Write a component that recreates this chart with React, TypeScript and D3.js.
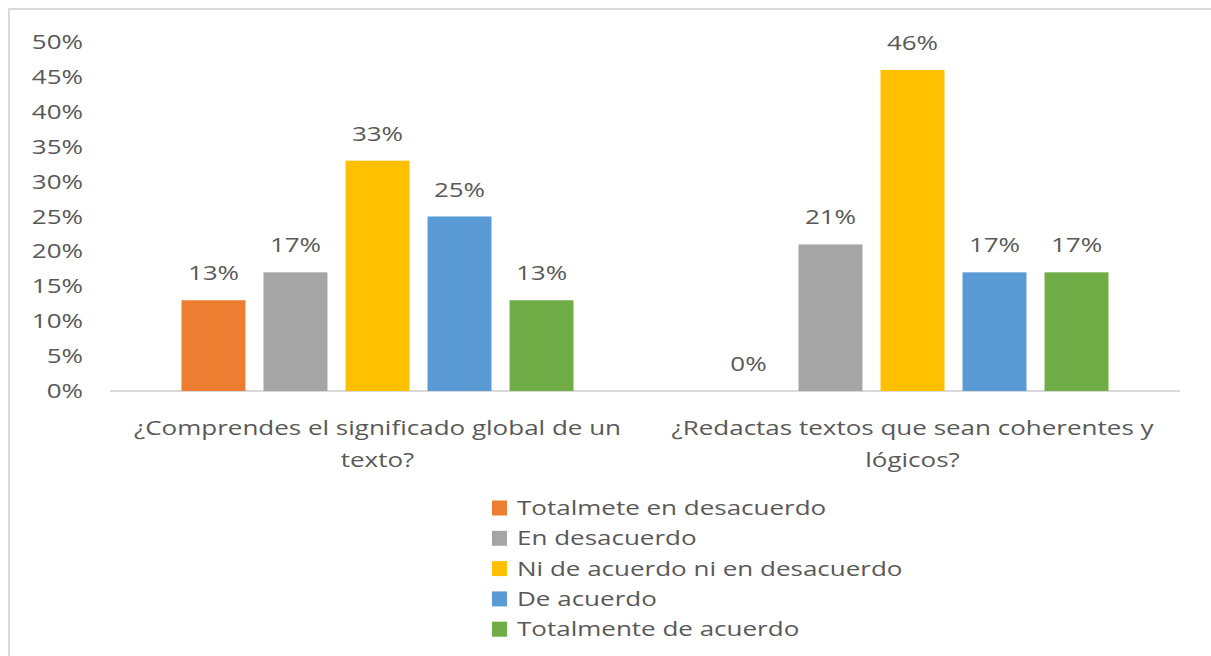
import React, { useEffect, useRef } from 'react';
import * as d3 from 'd3';

const categories = [
  ['¿Comprendes el significado global de un', 'texto?'],
  ['¿Redactas textos que sean coherentes y', 'lógicos?'],
];
const seriesNames = [
  'Totalmete en desacuerdo',
  'En desacuerdo',
  'Ni de acuerdo ni en desacuerdo',
  'De acuerdo',
  'Totalmente de acuerdo',
];
const seriesColors = ['#ed7d31', '#a5a5a5', '#ffc000', '#5b9bd5', '#70ad47'];
// values per category, in series order (%)
const valuesComprendes = [13, 17, 33, 25, 13];
const valuesRedactas = [0, 21, 46, 17, 17];
const yTicks = [0, 5, 10, 15, 20, 25, 30, 35, 40, 45, 50];

const App = () => {
  const svgRef = useRef<SVGSVGElement>(null);

  useEffect(() => {
    const svg = d3.select(svgRef.current);
    svg.selectAll('*').remove();

    const width = 1211;
    const height = 656;
    const font = "'Open Sans', sans-serif";
    const textColor = '#595959';
    const stretch = 1.3; // the source image is stretched horizontally

    svg.attr('width', width).attr('height', height);

    svg.append('rect')
      .attr('width', width).attr('height', height).attr('fill', 'white');

    // chart frame (runs off the right and bottom edges)
    svg.append('rect')
      .attr('x', 9).attr('y', 9)
      .attr('width', 1300).attr('height', 800)
      .attr('fill', 'none')
      .attr('stroke', '#d9d9d9')
      .attr('stroke-width', 2);

    const addText = (parent, x, y, str, anchor = 'start') =>
      parent.append('text')
        .attr('transform', `translate(${x},${y}) scale(${stretch},1)`)
        .attr('dy', '0.35em')
        .attr('text-anchor', anchor)
        .style('font-family', font)
        .style('font-size', '20px')
        .attr('fill', textColor)
        .text(str);

    const plot = { left: 110, right: 1180, top: 42, bottom: 391 };

    const x0 = d3.scaleBand<number>()
      .domain(d3.range(categories.length))
      .range([plot.left, plot.right]);

    const x1 = d3.scaleBand<number>()
      .domain(d3.range(seriesNames.length))
      .range([71.5, x0.bandwidth() - 71.5])
      .paddingInner(0.22);

    const y = d3.scaleLinear()
      .domain([0, 50])
      .range([plot.bottom, plot.top]);

    // y axis labels
    const yAxis = svg.append('g');
    yTicks.forEach(t => addText(yAxis, 83, y(t), `${t}%`, 'end'));

    // baseline
    svg.append('line')
      .attr('x1', plot.left).attr('x2', plot.right)
      .attr('y1', y(0)).attr('y2', y(0))
      .attr('stroke', '#d9d9d9')
      .attr('stroke-width', 2);

    const allValues = [valuesComprendes, valuesRedactas];

    allValues.forEach((vals, ci) => {
      const g = svg.append('g').attr('transform', `translate(${x0(ci)},0)`);
      g.selectAll('rect')
        .data(vals)
        .enter().append('rect')
        .attr('x', (d, i) => x1(i)!)
        .attr('y', d => y(d))
        .attr('width', x1.bandwidth())
        .attr('height', d => y(0) - y(d))
        .attr('fill', (d, i) => seriesColors[i]);
      vals.forEach((v, i) => {
        addText(g, x1(i)! + x1.bandwidth() / 2, y(v) - 27, `${v}%`, 'middle');
      });
    });

    // category labels
    categories.forEach((lines, i) => {
      const cx = x0(i)! + x0.bandwidth() / 2;
      lines.forEach((line, j) => addText(svg, cx, 428 + j * 32, line, 'middle'));
    });

    // legend
    const legend = svg.append('g');
    seriesNames.forEach((name, i) => {
      const ly = 508 + i * 30.3;
      legend.append('rect')
        .attr('x', 492).attr('y', ly - 7.5)
        .attr('width', 15).attr('height', 15)
        .attr('fill', seriesColors[i]);
      addText(legend, 517, ly, name);
    });
  }, []);

  return (
    <div style={{ position: 'absolute', left: 0, top: 0, width: 1211, height: 656, overflow: 'hidden' }}>
      <svg ref={svgRef} style={{ display: 'block' }} />
    </div>
  );
};

export default App;
